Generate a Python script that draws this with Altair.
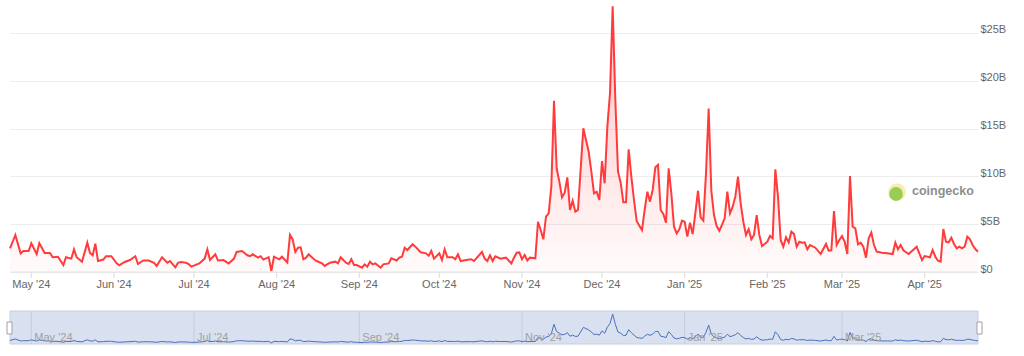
import altair as alt
import pandas as pd

dates = [
    "2024-04-23", "2024-04-25", "2024-04-27", "2024-04-28", "2024-04-30",
    "2024-05-01", "2024-05-03", "2024-05-04", "2024-05-06", "2024-05-08", "2024-05-09",
    "2024-05-11", "2024-05-13", "2024-05-14", "2024-05-16", "2024-05-17", "2024-05-18",
    "2024-05-20", "2024-05-22", "2024-05-23", "2024-05-24", "2024-05-25", "2024-05-26",
    "2024-05-28", "2024-05-29", "2024-05-31",
    "2024-06-02", "2024-06-03", "2024-06-05", "2024-06-07", "2024-06-09", "2024-06-10",
    "2024-06-12", "2024-06-14", "2024-06-16", "2024-06-17", "2024-06-19", "2024-06-21",
    "2024-06-22", "2024-06-24", "2024-06-25", "2024-06-26", "2024-06-28", "2024-06-29",
    "2024-06-30",
    "2024-07-03", "2024-07-05", "2024-07-06", "2024-07-07", "2024-07-09", "2024-07-10",
    "2024-07-12", "2024-07-14", "2024-07-16", "2024-07-17", "2024-07-19", "2024-07-21",
    "2024-07-22", "2024-07-23", "2024-07-25", "2024-07-26", "2024-07-27", "2024-07-29",
    "2024-07-30", "2024-07-31",
    "2024-08-02", "2024-08-03", "2024-08-05", "2024-08-06", "2024-08-07", "2024-08-08",
    "2024-08-09", "2024-08-10", "2024-08-11", "2024-08-12", "2024-08-13", "2024-08-15",
    "2024-08-16", "2024-08-18", "2024-08-19", "2024-08-21", "2024-08-23", "2024-08-24",
    "2024-08-25", "2024-08-27", "2024-08-28", "2024-08-29", "2024-08-30", "2024-08-31",
    "2024-09-02", "2024-09-03", "2024-09-04", "2024-09-05", "2024-09-06", "2024-09-07",
    "2024-09-09", "2024-09-10", "2024-09-12", "2024-09-13", "2024-09-15", "2024-09-16",
    "2024-09-17", "2024-09-18", "2024-09-19", "2024-09-21", "2024-09-22", "2024-09-24",
    "2024-09-26", "2024-09-27", "2024-09-28", "2024-09-29",
    "2024-10-01", "2024-10-02", "2024-10-03", "2024-10-04", "2024-10-06", "2024-10-07",
    "2024-10-08", "2024-10-09", "2024-10-11", "2024-10-13", "2024-10-14", "2024-10-17",
    "2024-10-18", "2024-10-19", "2024-10-20", "2024-10-21", "2024-10-22", "2024-10-24",
    "2024-10-26", "2024-10-28", "2024-10-29", "2024-10-30", "2024-10-31",
    "2024-11-01", "2024-11-02", "2024-11-03", "2024-11-04", "2024-11-06", "2024-11-07",
    "2024-11-08", "2024-11-09", "2024-11-10", "2024-11-11", "2024-11-12", "2024-11-13",
    "2024-11-14", "2024-11-15", "2024-11-16", "2024-11-17", "2024-11-18", "2024-11-19",
    "2024-11-20", "2024-11-21", "2024-11-22", "2024-11-24", "2024-11-25", "2024-11-26",
    "2024-11-27", "2024-11-28", "2024-11-29", "2024-11-30",
    "2024-12-01", "2024-12-02", "2024-12-03", "2024-12-04", "2024-12-05", "2024-12-06",
    "2024-12-07", "2024-12-08", "2024-12-09", "2024-12-10", "2024-12-11", "2024-12-12",
    "2024-12-13", "2024-12-14", "2024-12-15", "2024-12-16", "2024-12-17", "2024-12-18",
    "2024-12-19", "2024-12-20", "2024-12-21", "2024-12-22", "2024-12-23", "2024-12-24",
    "2024-12-25", "2024-12-26", "2024-12-27", "2024-12-28", "2024-12-29", "2024-12-30",
    "2024-12-31",
    "2025-01-01", "2025-01-02", "2025-01-03", "2025-01-04", "2025-01-05", "2025-01-06",
    "2025-01-07", "2025-01-08", "2025-01-09", "2025-01-10", "2025-01-11", "2025-01-12",
    "2025-01-13", "2025-01-14", "2025-01-15", "2025-01-16", "2025-01-17", "2025-01-18",
    "2025-01-19", "2025-01-20", "2025-01-21", "2025-01-22", "2025-01-23", "2025-01-24",
    "2025-01-25", "2025-01-26", "2025-01-27", "2025-01-28", "2025-01-29", "2025-01-30",
    "2025-01-31",
    "2025-02-01", "2025-02-02", "2025-02-03", "2025-02-04", "2025-02-05", "2025-02-06",
    "2025-02-07", "2025-02-08", "2025-02-09", "2025-02-10", "2025-02-11", "2025-02-12",
    "2025-02-13", "2025-02-14", "2025-02-15", "2025-02-16", "2025-02-17", "2025-02-19",
    "2025-02-21", "2025-02-23", "2025-02-24", "2025-02-25", "2025-02-26", "2025-02-27",
    "2025-02-28",
    "2025-03-01", "2025-03-02", "2025-03-03", "2025-03-04", "2025-03-05", "2025-03-06",
    "2025-03-07", "2025-03-08", "2025-03-09", "2025-03-10", "2025-03-11", "2025-03-12",
    "2025-03-13", "2025-03-14", "2025-03-16", "2025-03-18", "2025-03-20", "2025-03-21",
    "2025-03-22", "2025-03-23", "2025-03-24", "2025-03-26", "2025-03-29", "2025-03-30",
    "2025-03-31",
    "2025-04-01", "2025-04-03", "2025-04-04", "2025-04-05", "2025-04-06", "2025-04-07",
    "2025-04-08", "2025-04-09", "2025-04-10", "2025-04-11", "2025-04-12", "2025-04-13",
    "2025-04-14", "2025-04-15", "2025-04-16", "2025-04-17", "2025-04-18", "2025-04-19",
    "2025-04-20", "2025-04-21",
]

volume_b = [
    2.48, 3.87, 1.95, 2.2, 2.2,
    3.0, 1.88, 3.0, 2.0, 2.0, 1.54,
    1.6, 0.73, 1.54, 1.4, 2.37, 1.54,
    1.08, 3.07, 2.0, 1.75, 2.97, 1.15,
    1.3, 1.65, 1.65,
    0.9, 0.7, 1.05, 1.25, 1.65, 0.84,
    1.2, 1.2, 0.97, 0.63, 1.54, 0.97,
    1.15, 0.49, 0.97, 1.05, 0.97, 0.84,
    0.56,
    0.9, 1.4, 2.37, 1.25, 1.85, 1.2,
    1.25, 0.9, 1.4, 2.1, 2.2, 1.75,
    1.65, 1.85, 1.5, 1.65, 1.3, 1.55,
    0.1, 1.6,
    1.33, 1.6, 1.0, 3.87, 3.4, 2.1,
    2.54, 2.58, 1.33, 1.5, 1.85, 1.33,
    1.15, 0.9, 0.63, 0.97, 1.08, 0.9,
    1.54, 0.97, 0.84, 1.33, 0.73, 0.73,
    0.45, 0.8, 0.56, 1.08, 0.8, 0.9,
    0.45, 0.8, 0.9, 1.43, 1.2, 1.5,
    1.6, 2.54, 2.3, 2.9, 2.65, 2.06,
    1.95, 1.7, 2.2, 1.4,
    1.95, 1.25, 2.37, 1.54, 1.54, 1.33,
    1.85, 1.15, 1.25, 1.33, 1.15, 2.1,
    1.4, 1.15, 1.75, 1.15, 1.65, 1.4,
    1.5, 0.9, 1.5, 2.02, 2.05,
    1.33, 1.78, 1.2, 1.5, 1.43, 5.26,
    4.4, 3.42, 5.79, 6.14, 8.92, 17.9,
    10.85, 9.45, 7.81, 8.3, 9.9, 6.49,
    7.46, 6.31, 6.49, 15.03, 13.8, 12.58,
    10.49, 8.23, 8.4, 7.53,
    11.61, 9.28, 15.2, 18.7, 27.8, 18.0,
    10.49, 9.34, 7.29, 7.29, 12.83, 9.97,
    7.53, 5.33, 4.84, 4.39, 6.49, 8.4,
    7.36, 8.58, 10.95, 11.2, 6.49, 6.07,
    5.16, 10.85, 8.23, 4.74, 4.05, 4.47,
    5.37,
    5.26, 3.7, 5.16, 3.97, 6.14, 8.5,
    5.72, 5.37, 10.32, 17.1, 8.5, 5.96,
    4.81, 4.32, 4.92, 5.62, 8.4, 6.14,
    6.83, 7.88, 9.97, 7.18, 5.26, 3.87,
    4.47, 3.42, 3.87, 5.96, 3.87, 2.72,
    2.93,
    3.17, 3.77, 3.52, 10.74, 7.88, 3.35,
    2.65, 3.63, 3.1, 4.22, 3.97, 2.65,
    3.17, 3.07, 3.1, 2.37, 2.82, 2.54,
    1.88, 2.93, 2.23, 2.27, 6.38, 2.82,
    3.35,
    3.77, 3.17, 1.88, 10.04, 4.74, 4.57,
    2.9, 3.07, 2.65, 1.5, 3.52, 4.11,
    2.82, 2.12, 2.02, 1.95, 1.88, 3.07,
    2.37, 2.82, 2.27, 1.88, 2.65, 1.95,
    1.25,
    1.67, 1.54, 2.3, 1.6, 1.18, 1.08,
    4.5, 3.17, 3.1, 3.59, 2.93, 2.48,
    2.65, 2.48, 2.65, 3.7, 3.42, 2.82,
    2.4, 2.12,
]

y_ticks = [0, 5, 10, 15, 20, 25]
month_ticks = ["2024-05-01", "2024-06-01", "2024-07-01", "2024-08-01", "2024-09-01",
               "2024-10-01", "2024-11-01", "2024-12-01", "2025-01-01", "2025-02-01",
               "2025-03-01", "2025-04-01"]
month_labels = ["May '24", "Jun '24", "Jul '24", "Aug '24", "Sep '24", "Oct '24",
                "Nov '24", "Dec '24", "Jan '25", "Feb '25", "Mar '25", "Apr '25"]
nav_label_dates = ["2024-05-01", "2024-07-01", "2024-09-01",
                   "2024-11-01", "2025-01-01", "2025-03-01"]
nav_labels = ["May '24", "Jul '24", "Sep '24", "Nov '24", "Jan '25", "Mar '25"]
watermark_text = ["coingecko"]

df = pd.DataFrame({"date": pd.to_datetime(dates), "v": volume_b})
tick_df = pd.DataFrame({"date": pd.to_datetime(month_ticks), "label": month_labels})
nav_df = pd.DataFrame({"date": pd.to_datetime(nav_label_dates), "label": nav_labels})
span_df = pd.DataFrame({"start": [df["date"].min()], "end": [df["date"].max()]})
wm_df = pd.DataFrame({"t": watermark_text})
one = pd.DataFrame({"k": [0]})

FONT = "Liberation Sans"
RED = "#ff3b3b"
LABEL_GRAY = "#666666"

y_main_scale = alt.Scale(domain=[0, 28.45], nice=False, zero=True)
y_axis = alt.Axis(
    orient="right", values=y_ticks,
    labelExpr="datum.value == 0 ? '$0' : '$' + datum.value + 'B'",
    grid=True, gridColor="#ededed", domain=False, ticks=False,
    labelPadding=2, labelFontSize=11, labelColor=LABEL_GRAY, labelFont=FONT,
    labelBaseline="alphabetic", title=None,
)

line = alt.Chart(df).mark_line(color=RED, strokeWidth=2).encode(
    x=alt.X("date:T", axis=None, scale=alt.Scale(nice=False)),
    y=alt.Y("v:Q", scale=y_main_scale, axis=y_axis),
)

area = alt.Chart(df).mark_area(
    color=alt.Gradient(
        gradient="linear",
        stops=[alt.GradientStop(color="rgba(255,59,59,0.02)", offset=0),
               alt.GradientStop(color="rgba(255,59,59,0.3)", offset=1)],
        x1=1, x2=1, y1=1, y2=0,
    )
).encode(
    x=alt.X("date:T", axis=None),
    y=alt.Y("v:Q", scale=y_main_scale, axis=None),
)

# x axis drawn from month tick data
x_domain_line = alt.Chart(span_df).mark_rule(color="#e3e3e3", strokeWidth=1).encode(
    x=alt.X("start:T", axis=None), x2="end:T", y=alt.value(272),
)
x_tick_marks = alt.Chart(tick_df).mark_rule(color="#dcdcdc", strokeWidth=1).encode(
    x=alt.X("date:T", axis=None), y=alt.value(272), y2=alt.value(278),
)
x_tick_labels = alt.Chart(tick_df).mark_text(
    align="center", baseline="alphabetic", fontSize=11, color=LABEL_GRAY, font=FONT
).encode(
    x=alt.X("date:T", axis=None), y=alt.value(288), text="label:N",
)

# navigator
nav_bg = alt.Chart(span_df).mark_rect(fill="#d9e0ef", stroke="#c9cfdc", strokeWidth=1).encode(
    x=alt.X("start:T", axis=None), x2="end:T",
    y=alt.value(311), y2=alt.value(344),
)
nav_grid = alt.Chart(nav_df).mark_rule(color="#c5ccdb", strokeWidth=1).encode(
    x=alt.X("date:T", axis=None), y=alt.value(311), y2=alt.value(344),
)
nav_scale = alt.Scale(domain=[0, 27.8], range=[343, 314], nice=False, zero=True)
nav_line = alt.Chart(df).mark_line(color="#4a6fc0", strokeWidth=1).encode(
    x=alt.X("date:T", axis=None),
    y=alt.Y("v:Q", scale=nav_scale, axis=None),
)
nav_text = alt.Chart(nav_df).mark_text(
    align="left", baseline="alphabetic", dx=3, fontSize=11, color="#a0a0a0", font=FONT
).encode(
    x=alt.X("date:T", axis=None), y=alt.value(341), text="label:N",
)
handle_l = alt.Chart(one).mark_rect(fill="white", stroke="#a0a0a0", strokeWidth=1).encode(
    x=alt.value(-3), x2=alt.value(2), y=alt.value(322), y2=alt.value(334),
)
handle_r = alt.Chart(one).mark_rect(fill="white", stroke="#a0a0a0", strokeWidth=1).encode(
    x=alt.value(967), x2=alt.value(972), y=alt.value(322), y2=alt.value(334),
)

# watermark
logo_outer = alt.Chart(one).mark_circle(color="#f6eba6", opacity=0.9, size=310).encode(
    x=alt.value(887), y=alt.value(192),
)
logo_inner = alt.Chart(one).mark_circle(color="#8cc84b", opacity=0.9, size=190).encode(
    x=alt.value(886), y=alt.value(194),
)
wm_text = alt.Chart(wm_df).mark_text(
    align="left", baseline="middle", fontSize=12.5, fontWeight="bold",
    color="#8e8e8e", font=FONT,
).encode(x=alt.value(902), y=alt.value(191), text="t:N")

chart = alt.layer(
    line, area, x_domain_line, x_tick_marks, x_tick_labels,
    nav_bg, nav_grid, nav_line, nav_text, handle_l, handle_r,
    logo_outer, logo_inner, wm_text,
).resolve_scale(y="independent").properties(
    width=968, height=272,
    padding={"left": 6, "top": 0, "right": 5, "bottom": 0},
    background="white",
).configure_view(stroke=None)

chart.save("out.html", embed_options={"renderer": "svg", "actions": False})
